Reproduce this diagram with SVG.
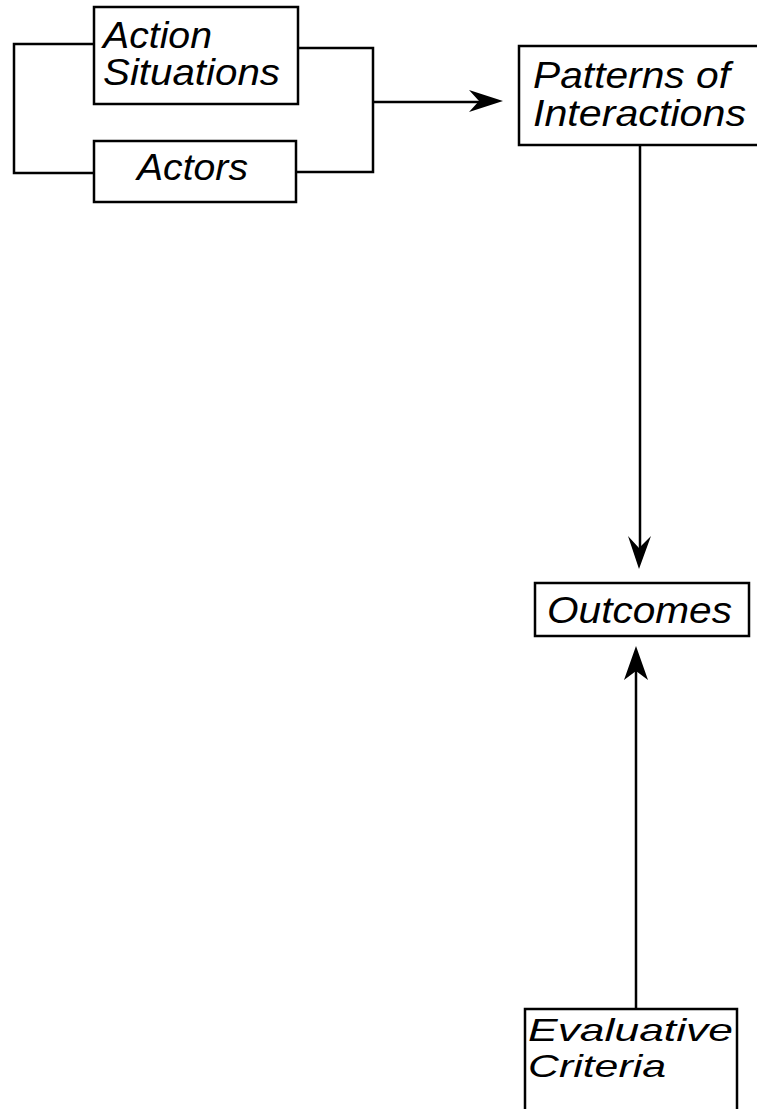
<svg xmlns="http://www.w3.org/2000/svg" width="757" height="1109" viewBox="0 0 757 1109">
<style>
.box{fill:#fff;stroke:#000;stroke-width:2.5}
.ln{fill:none;stroke:#000;stroke-width:2.5}
.ah{fill:#000;stroke:none}
text{font-family:"Liberation Sans",Arial,sans-serif;font-style:italic;font-size:37px;fill:#000}
.sm{font-size:32px}
</style>
<rect width="757" height="1109" fill="#fff"/>
<g id="connectors">
<path class="ln" d="M94,44 H14 V173 H94"/>
<path class="ln" d="M298,48 H373 V172 H296"/>
<path class="ln" d="M373,102 H482"/>
<path class="ah" d="M503,101 L469,90 L479,101 L469,112 Z"/>
<path class="ln" d="M640,145 V552"/>
<path class="ah" d="M639,569 L628,536 L639,548 L651,536 Z"/>
<path class="ln" d="M636,1009 V664"/>
<path class="ah" d="M636,646 L624,680 L636,671 L648,680 Z"/>
</g>
<g id="action-situations">
<rect class="box" x="94" y="7" width="204" height="97"/>
<text x="103" y="48" textLength="109" lengthAdjust="spacingAndGlyphs">Action</text>
<text x="103" y="85" textLength="177" lengthAdjust="spacingAndGlyphs">Situations</text>
</g>
<g id="actors">
<rect class="box" x="94" y="141" width="202" height="61"/>
<text x="137" y="180" textLength="111" lengthAdjust="spacingAndGlyphs">Actors</text>
</g>
<g id="patterns">
<rect class="box" x="519" y="46" width="245" height="99"/>
<text x="533" y="88" textLength="197" lengthAdjust="spacingAndGlyphs">Patterns of</text>
<text x="533" y="126" textLength="213" lengthAdjust="spacingAndGlyphs">Interactions</text>
</g>
<g id="outcomes">
<rect class="box" x="535" y="583" width="214" height="53"/>
<text x="547" y="623" textLength="185" lengthAdjust="spacingAndGlyphs">Outcomes</text>
</g>
<g id="evaluative-criteria">
<rect class="box" x="525" y="1009" width="212" height="110"/>
<text class="sm" x="528" y="1041" textLength="205" lengthAdjust="spacingAndGlyphs">Evaluative</text>
<text class="sm" x="528" y="1077" textLength="138" lengthAdjust="spacingAndGlyphs">Criteria</text>
</g>
</svg>
